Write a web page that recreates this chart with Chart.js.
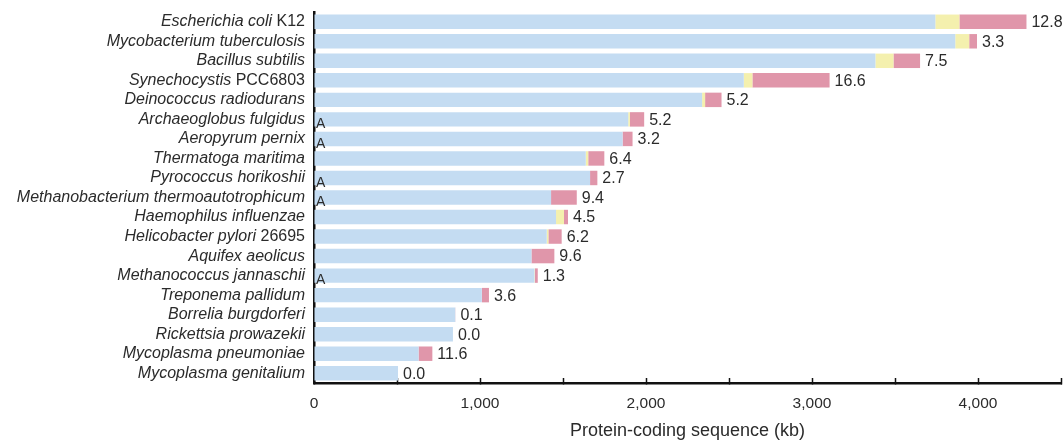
<!DOCTYPE html>
<html>
<head>
<meta charset="utf-8">
<script src="https://cdn.jsdelivr.net/npm/chart.js@4/dist/chart.umd.min.js"></script>
<style>
  html, body { margin: 0; padding: 0; background: #fff; }
  #wrap { width: 1063px; height: 440px; }
</style>
</head>
<body>
<div id="wrap"><canvas id="genomeChart"></canvas></div>
<script>
// 物種名稱（斜體）與菌株（正體）
const species = [
  'Escherichia coli', 'Mycobacterium tuberculosis', 'Bacillus subtilis',
  'Synechocystis', 'Deinococcus radiodurans', 'Archaeoglobus fulgidus',
  'Aeropyrum pernix', 'Thermatoga maritima', 'Pyrococcus horikoshii',
  'Methanobacterium thermoautotrophicum', 'Haemophilus influenzae',
  'Helicobacter pylori', 'Aquifex aeolicus', 'Methanococcus jannaschii',
  'Treponema pallidum', 'Borrelia burgdorferi', 'Rickettsia prowazekii',
  'Mycoplasma pneumoniae', 'Mycoplasma genitalium'
]
const strains = ['K12', '', '', 'PCC6803', '', '', '', '', '', '', '', '26695', '', '', '', '', '', '', '']
// 古菌標記
const archaea = [0, 0, 0, 0, 0, 1, 1, 0, 1, 1, 0, 0, 0, 1, 0, 0, 0, 0, 0]

// 三段數值 (kb)
const blueSeg = [3743, 3863, 3382, 2589, 2338, 1893, 1859, 1637, 1663, 1428, 1458, 1402, 1310, 1328, 1011, 851, 837, 630, 506]
const yellowSeg = [145, 84, 109, 52, 18, 10, 0, 15, 0, 0, 48, 10, 0, 3, 0, 0, 0, 0, 0]
const pinkSeg = [404, 47, 160, 465, 99, 86, 60, 97, 44, 155, 24, 80, 138, 17, 43, 1, 0, 83, 0]
// 長條末端數字
const endLabels = ['12.8', '3.3', '7.5', '16.6', '5.2', '5.2', '3.2', '6.4', '2.7', '9.4', '4.5', '6.2', '9.6', '1.3', '3.6', '0.1', '0.0', '11.6', '0.0']

const categories = species.map((s, i) => strains[i] ? s + ' ' + strains[i] : s)

const FONT = '"Liberation Sans", Arial, Helvetica, sans-serif'
const TEXT = '#2b2b2b'

// 自訂標籤：斜體物種名、古菌 A、末端數字
const labelPlugin = {
  id: 'labelPlugin',
  afterDatasetsDraw (chart) {
    const ctx = chart.ctx
    const x = chart.scales.x
    const y = chart.scales.y
    const left = chart.chartArea.left
    ctx.save()
    ctx.fillStyle = TEXT
    ctx.textBaseline = 'middle'
    for (let i = 0; i < categories.length; i++) {
      const py = y.getPixelForValue(i)
      // 左側名稱
      ctx.font = 'italic 16px ' + FONT
      const wItalic = ctx.measureText(species[i]).width
      ctx.font = '16px ' + FONT
      const tail = strains[i] ? ' ' + strains[i] : ''
      const wTail = tail ? ctx.measureText(tail).width : 0
      const start = left - 9 - wItalic - wTail
      ctx.textAlign = 'left'
      ctx.font = 'italic 16px ' + FONT
      ctx.fillText(species[i], start, py)
      if (tail) {
        ctx.font = '16px ' + FONT
        ctx.fillText(tail, start + wItalic, py)
      }
      // 古菌
      if (archaea[i]) {
        ctx.font = '14px ' + FONT
        ctx.fillText('A', left + 2, py + 5)
      }
      // 末端數字
      const total = blueSeg[i] + yellowSeg[i] + pinkSeg[i]
      ctx.font = '16px ' + FONT
      ctx.fillText(endLabels[i], x.getPixelForValue(total) + 5, py + 1)
    }
    ctx.restore()
  }
}

const ctx = document.getElementById('genomeChart')
new Chart(ctx, {
  type: 'bar',
  data: {
    labels: categories,
    datasets: [
      { data: blueSeg, backgroundColor: '#c4dcf2' },
      { data: yellowSeg, backgroundColor: '#f4f0ae' },
      { data: pinkSeg, backgroundColor: '#e096aa' }
    ]
  },
  options: {
    indexAxis: 'y',
    responsive: true,
    maintainAspectRatio: false,
    animation: false,
    events: [],
    layout: { padding: { top: 12, right: 2, left: 0, bottom: 0 } },
    datasets: {
      bar: { categoryPercentage: 1, barPercentage: 0.74, borderWidth: 0 }
    },
    plugins: {
      legend: { display: false },
      tooltip: { enabled: false }
    },
    scales: {
      x: {
        stacked: true,
        min: 0,
        max: 4500,
        afterFit (scale) {
          scale.height = 57
          scale.paddingLeft = 0
          scale.paddingRight = 0
        },
        border: { display: true, color: '#111', width: 2.5 },
        grid: {
          display: true,
          drawOnChartArea: false,
          drawTicks: true,
          tickLength: -5,
          tickColor: '#111',
          tickWidth: 1.5
        },
        ticks: {
          stepSize: 500,
          autoSkip: false,
          maxRotation: 0,
          padding: 16,
          color: TEXT,
          font: { family: FONT, size: 15.5 },
          callback: (v) => (v % 1000 === 0 ? v.toLocaleString('en-US') : '')
        },
        title: {
          display: true,
          text: 'Protein-coding sequence (kb)',
          color: TEXT,
          font: { family: FONT, size: 18, lineHeight: 1 },
          padding: { top: 0, bottom: 0 }
        }
      },
      y: {
        stacked: true,
        afterFit (scale) { scale.width = 314 },
        border: { display: true, color: '#111', width: 2.5 },
        grid: { display: false },
        ticks: { display: false }
      }
    }
  },
  plugins: [labelPlugin]
})
</script>
</body>
</html>
